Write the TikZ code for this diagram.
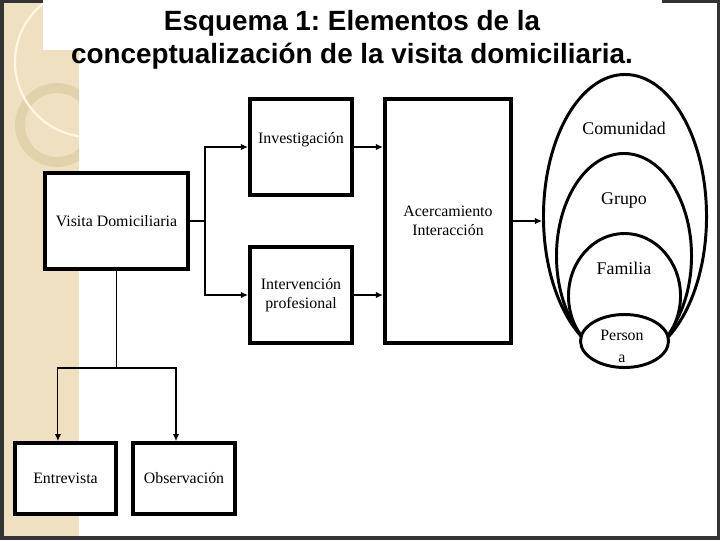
\documentclass[tikz,border=0pt]{standalone}
\usepackage{fontspec}
\setmainfont{Liberation Serif}
\newfontfamily\titlefont{Liberation Sans}
\usepackage{tikz}
\usetikzlibrary{shapes.geometric,arrows.meta,positioning,calc}
\definecolor{myframe}{RGB}{51,51,51}
\definecolor{mybeige}{RGB}{238,224,192}
\definecolor{myring}{RGB}{226,210,172}
\definecolor{mycream}{RGB}{255,247,225}
\frenchspacing

\begin{document}
\begin{tikzpicture}[
      x=0.025cm, y=-0.025cm,
      box/.style={draw=black, line width=2.8pt, fill=white, align=center,
                  font=\fontsize{11.3}{13.2}\selectfont, inner sep=2pt},
      ring/.style={ellipse, draw=black, line width=2.1pt, fill=white},
      ringlbl/.style={font=\fontsize{12.7}{15}\selectfont, inner sep=0pt},
      arr/.style={->, >={Latex[length=5pt,width=4.5pt]}, line width=1pt},
      thinarr/.style={->, >={Latex[length=5pt,width=4.5pt]}, line width=0.75pt}
    ]
    \useasboundingbox (0,0) rectangle (720,540);
    % slide background
    \fill[myframe] (0,0) rectangle (720,540);
    \fill[white] (4,3) rectangle (717,536);
    \fill[mybeige] (4,3) rectangle (79,536);
    \begin{scope}
      \clip (4,3) rectangle (79,536);
      \draw[myring, line width=7pt] (57,125) circle (37);
      \draw[mycream, line width=1.6pt] (90,62) circle (75);
    \end{scope}
    \fill[white] (43,0) rectangle (662,50);
    \node[font=\titlefont\bfseries\fontsize{19.8}{23.4}\selectfont, align=center,
          anchor=base, inner sep=0pt] (title) at (352,63)
      {Esquema 1: Elementos de la\\conceptualización de la visita domiciliaria.};

    % boxes
    \node[box, minimum width=3.575cm, minimum height=2.4cm] (visita) at (116.5,221) {Visita Domiciliaria};
    \node[box, minimum width=2.55cm, minimum height=2.4cm, text depth=13pt] (inv) at (301,147) {Investigación};
    \node[box, minimum width=2.55cm, minimum height=2.4cm] (interv) at (301,295) {Intervención\\profesional};
    \node[box, minimum width=3.15cm, minimum height=6.1cm] (acerc) at (448,221) {Acercamiento\\Interacción};
    \node[box, minimum width=2.525cm, minimum height=1.775cm] (entrev) at (65.5,478.5) {Entrevista};
    \node[box, minimum width=2.55cm, minimum height=1.775cm] (observ) at (184,478.5) {Observación};

    % nested circles
    \node[ring, minimum width=4.075cm, minimum height=7.1cm] (comunidad) at (625,216.5) {};
    \node[ring, minimum width=3.375cm, minimum height=5.125cm] (grupo) at (624,256) {};
    \node[ring, minimum width=2.8cm, minimum height=3.125cm] (familia) at (624.5,296) {};
    \node[ring, minimum width=2.2cm, minimum height=1.325cm] (persona) at (624.5,341) {};
    \node[ringlbl] (lblcom) at (624,128) {Comunidad};
    \node[ringlbl] (lblgru) at (624,200) {Grupo};
    \node[ringlbl] (lblfam) at (624,268) {Familia};
    \node[ringlbl, align=center, font=\fontsize{11.3}{15.6}\selectfont] (lblper) at (622,346) {Person\\a};

    % connectors
    \draw[line width=1pt] (visita.east) -- ++(15,0) coordinate (split);
    \draw[arr] (split) |- (inv.west);
    \draw[arr] (split) |- (interv.west);
    \draw[arr] (inv.east) -- (inv.east -| acerc.west);
    \draw[arr] (interv.east) -- (interv.east -| acerc.west);
    \draw[thinarr] (acerc.east) -- (acerc.east -| comunidad.west);
    \draw[line width=0.75pt] (visita.south) -- ++(0,97) coordinate (fork);
    \draw[thinarr] (fork) -| ([xshift=-0.19cm]entrev.north);
    \draw[thinarr] (fork) -| ([xshift=-0.2cm]observ.north);
  \end{tikzpicture}
\end{document}
